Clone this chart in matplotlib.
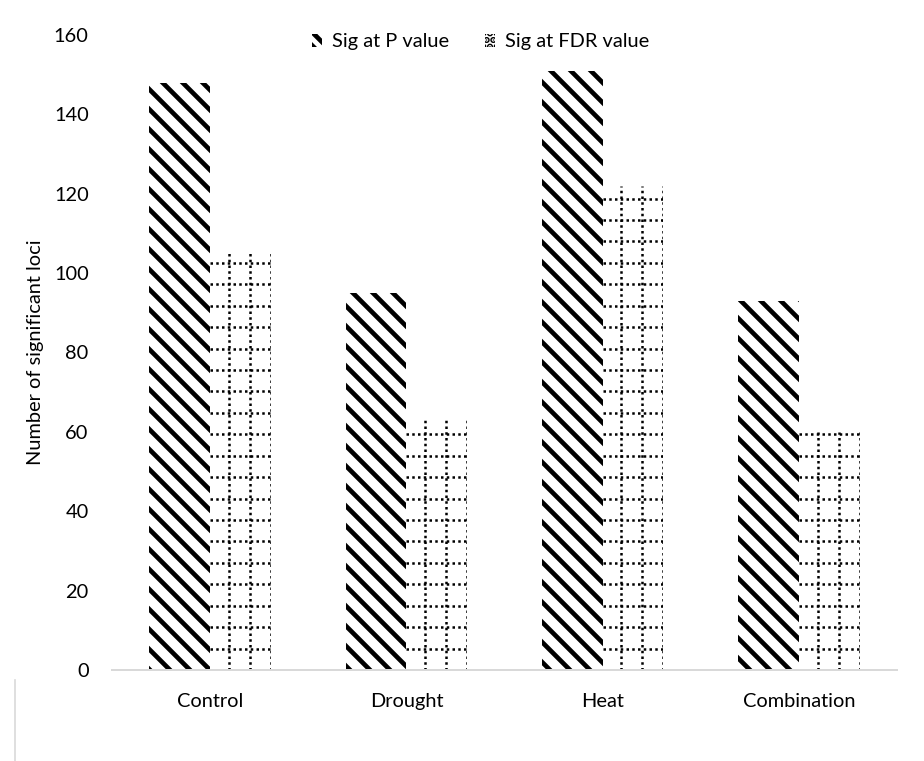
import matplotlib
matplotlib.use("Agg")
import matplotlib.pyplot as plt
from matplotlib.patches import Patch
from matplotlib.lines import Line2D
import numpy as np

categories = ["Control", "Drought", "Heat", "Combination"]
sig_p = [148, 95, 151, 93]
sig_fdr = [105, 63, 122, 60]
series_labels = ["Sig at P value", "Sig at FDR value"]
y_ticks = [0, 20, 40, 60, 80, 100, 120, 140, 160]

plt.rcParams["font.family"] = ["Lato", "DejaVu Sans"]
plt.rcParams["hatch.linewidth"] = 2.8

fig = plt.figure(figsize=(7.7, 761 / 120), dpi=120)
ax = fig.add_axes([0.1212, 0.1196, 0.8496, 0.8344])

x = np.arange(len(categories))
w = 0.31

ax.bar(x - w / 2, sig_p, w, color="white", edgecolor="black",
       linewidth=0, hatch="\\\\")
fdr_bars = ax.bar(x + w / 2, sig_fdr, w, color="white", linewidth=0)

# dotted grid pattern inside the FDR bars
dx = 0.107
dy = 5.4
for rect in fdr_bars:
    x0, x1 = rect.get_x(), rect.get_x() + rect.get_width()
    h = rect.get_height()
    xs = np.arange(x1, x0, -dx)
    ys = np.arange(0, h, dy)
    for xv in xs:
        ln = ax.plot([xv, xv], [0, h], color="black", lw=1.5,
                     linestyle=(0, (1, 1.3)))[0]
        ln.set_clip_path(rect)
    for yv in ys:
        ln = ax.plot([x0, x1], [yv, yv], color="black", lw=1.5,
                     linestyle=(0, (1, 1.3)))[0]
        ln.set_clip_path(rect)

ax.set_xlim(-0.5, len(categories) - 0.5)
ax.set_ylim(0, 160)
ax.set_yticks(y_ticks)
ax.set_xticks(x)
ax.set_xticklabels(categories)
ax.tick_params(length=0, labelsize=12, colors="#000000")
ax.tick_params(axis="x", pad=14)
ax.tick_params(axis="y", pad=14)
for s in ["top", "right", "left"]:
    ax.spines[s].set_visible(False)
ax.spines["bottom"].set_color("#d9d9d9")
ax.spines["bottom"].set_linewidth(1.2)
ax.set_ylabel("Number of significant loci", fontsize=12, labelpad=6)

handles = [
    Patch(facecolor="white", edgecolor="black", linewidth=0, hatch="\\\\\\"),
    Patch(facecolor="white", edgecolor="black", linewidth=0, hatch="..."),
]
fig.legend(handles, series_labels, loc="center", bbox_to_anchor=(0.52, 1 - 42 / 761),
           ncol=2, frameon=False, fontsize=12, handlelength=0.5, handleheight=0.6,
           handletextpad=0.5, columnspacing=1.8)

fig.add_artist(Line2D([15 / 924, 15 / 924], [0, 1 - 680 / 761],
                      color="#d9d9d9", lw=1, transform=fig.transFigure))

fig.savefig("out.png", dpi=120)
